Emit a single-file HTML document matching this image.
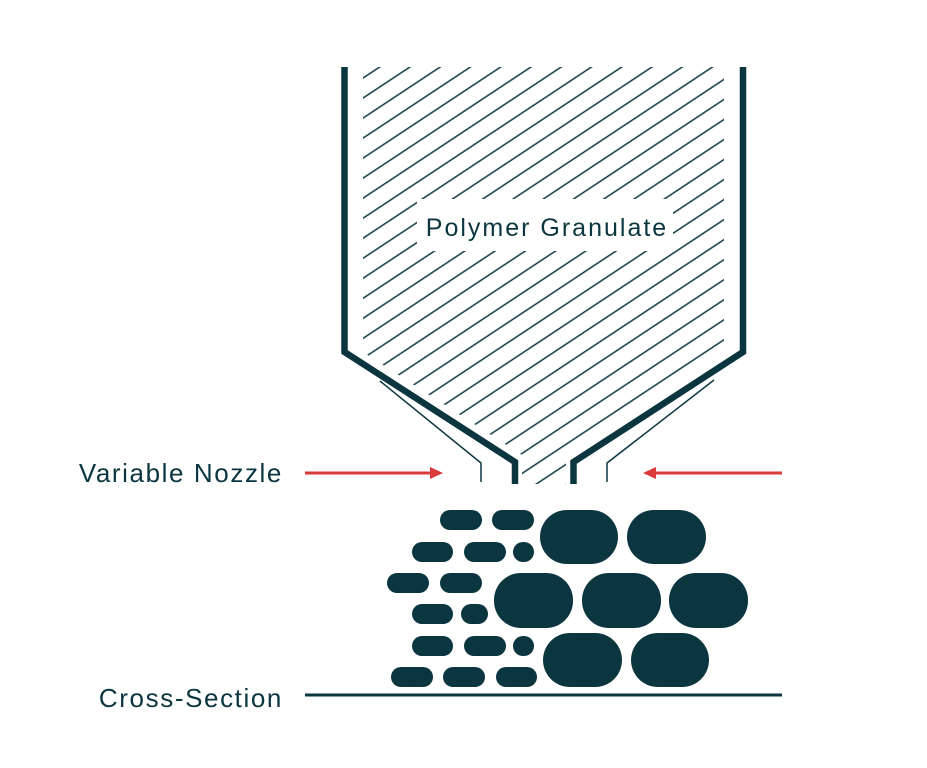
<!DOCTYPE html>
<html><head><meta charset="utf-8"><style>
html,body{margin:0;padding:0;background:#fff;}
svg{display:block;}
text{font-family:"Liberation Sans","DejaVu Sans",sans-serif;fill:#0b3640;}
</style></head><body>
<svg width="927" height="768" viewBox="0 0 927 768" xmlns="http://www.w3.org/2000/svg">
<defs>
<pattern id="h" patternUnits="userSpaceOnUse" width="60" height="16.7" patternTransform="translate(363,278.3) rotate(-33.5)">
<line x1="0" y1="0" x2="60" y2="0" stroke="#0b3640" stroke-width="1.5"/>
<line x1="0" y1="16.7" x2="60" y2="16.7" stroke="#0b3640" stroke-width="1.5"/>
</pattern>
<clipPath id="c"><polygon points="363,67 724,67 724,352 566,452 566,484 522,484 522,455 363,352"/></clipPath>
</defs>
<rect width="927" height="768" fill="#fff"/>
<g clip-path="url(#c)"><rect x="340" y="60" width="420" height="430" fill="url(#h)"/></g>
<rect x="417" y="199" width="256" height="52" fill="#fff"/>
<text x="547" y="236" font-size="25" text-anchor="middle" letter-spacing="2">Polymer Granulate</text>
<polyline points="344.5,67 344.5,352 515,462 515,484" fill="none" stroke="#0b3640" stroke-width="6.5"/>
<polyline points="743,67 743,352 573.5,462 573.5,484" fill="none" stroke="#0b3640" stroke-width="6.5"/>
<polyline points="380,381 481,463 481,482" fill="none" stroke="#0b3640" stroke-width="1.5"/>
<polyline points="714,380 607,463 607,482" fill="none" stroke="#0b3640" stroke-width="1.5"/>
<line x1="305" y1="473" x2="432" y2="473" stroke="#d93a3a" stroke-width="3"/>
<polygon points="443,473 430,467 430,479" fill="#d93a3a"/>
<line x1="782" y1="473" x2="654" y2="473" stroke="#d93a3a" stroke-width="3"/>
<polygon points="643,473 656,467 656,479" fill="#d93a3a"/>
<text x="283" y="482" font-size="26" text-anchor="end" letter-spacing="1.6">Variable Nozzle</text>
<text x="283" y="707" font-size="26" text-anchor="end" letter-spacing="1.6">Cross-Section</text>
<line x1="305" y1="695" x2="782" y2="695" stroke="#0b3640" stroke-width="3"/>
<g fill="#0b3640">
<rect x="440" y="510" width="42" height="20" rx="10"/>
<rect x="492" y="510" width="42" height="20" rx="10"/>
<rect x="540" y="510" width="78" height="54" rx="27"/>
<rect x="627" y="510" width="79" height="54" rx="27"/>
<rect x="412" y="542" width="41" height="20" rx="10"/>
<rect x="464" y="542" width="42" height="20" rx="10"/>
<rect x="513" y="542" width="21" height="20" rx="10"/>
<rect x="387" y="573" width="42" height="20" rx="10"/>
<rect x="440" y="573" width="42" height="20" rx="10"/>
<rect x="494" y="573" width="79" height="55" rx="27"/>
<rect x="582" y="573" width="79" height="55" rx="27"/>
<rect x="669" y="573" width="79" height="55" rx="27"/>
<rect x="412" y="604" width="41" height="20" rx="10"/>
<rect x="461" y="604" width="27" height="20" rx="10"/>
<rect x="412" y="636" width="41" height="20" rx="10"/>
<rect x="464" y="636" width="42" height="20" rx="10"/>
<rect x="513" y="636" width="21" height="20" rx="10"/>
<rect x="543" y="633" width="79" height="54" rx="27"/>
<rect x="631" y="633" width="78" height="54" rx="27"/>
<rect x="391" y="667" width="42" height="20" rx="10"/>
<rect x="443" y="667" width="42" height="20" rx="10"/>
<rect x="496" y="667" width="41" height="20" rx="10"/>
</g>
</svg>
</body></html>
